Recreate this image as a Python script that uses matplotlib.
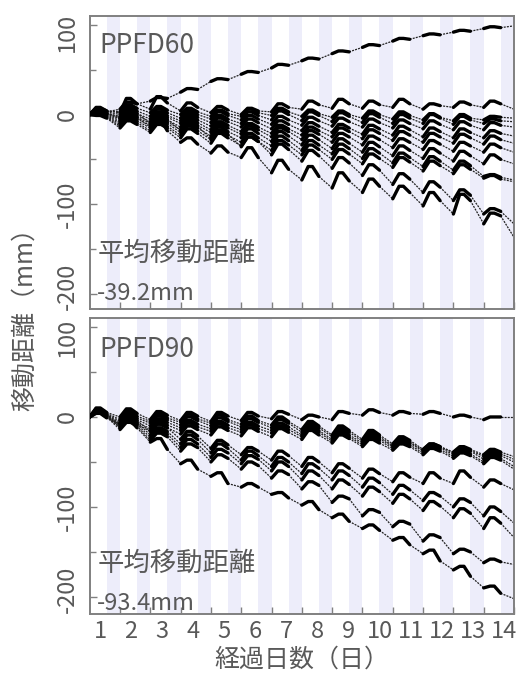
import matplotlib
matplotlib.use("Agg")
import matplotlib.pyplot as plt
from matplotlib.ticker import MultipleLocator, NullFormatter
import matplotlib.transforms as mtransforms

plt.rcParams['font.family'] = ['Noto Sans CJK JP', 'DejaVu Sans']
plt.rcParams['axes.unicode_minus'] = False

# ---------------- data ----------------
days = list(range(1, 15))
day_labels = [str(d) for d in days]
ytick_values = [100, 0, -100, -200]
ytick_labels = ['100', '0', '-100', '-200']
panel_titles = ["PPFD60", "PPFD90"]
mean_labels = ["-39.2mm", "-93.4mm"]

# PPFD60: value at start of each light period (t=0..13) + final (t=14),
# peak in the middle of the light period, value at the end of the light period
ppfd60_start = [
    [0, 6, 15, 25, 37, 45, 52, 60, 68, 75, 82, 88, 92, 96, 99],
    [0, 2, 6, 4, 2, 0, 3, 6, 7, 7, 8, 6, 8, 8, 6],
    [0, 3, 2, 0, -2, -2, -1, -2, -3, -4, -5, -6, -7, -6, -4],
    [0, 0, -2, -4, -5, -6, -6, -7, -8, -9, -10, -10, -11, -10, -8],
    [0, -3, -5, -7, -9, -10, -11, -12, -13, -14, -15, -16, -17, -17, -14],
    [0, -5, -8, -10, -13, -14, -16, -18, -20, -22, -23, -25, -26, -26, -24],
    [0, -7, -10, -14, -17, -19, -21, -23, -25, -27, -29, -31, -32, -33, -32],
    [0, -9, -12, -17, -20, -22, -25, -28, -31, -34, -37, -39, -41, -42, -42],
    [0, -11, -15, -20, -24, -26, -30, -34, -38, -42, -46, -49, -52, -55, -55],
    [0, -13, -18, -23, -28, -31, -35, -40, -44, -49, -54, -58, -62, -69, -73],
    [0, -15, -20, -26, -32, -35, -40, -45, -50, -55, -59, -63, -66, -71, -75],
    [0, -2, -10, -18, -27, -36, -45, -52, -60, -68, -78, -87, -96, -111, -122],
    [0, -4, -14, -31, -43, -48, -65, -73, -82, -87, -94, -102, -111, -122, -137],
]
ppfd60_peak = [
    [5, 14, 19, 29, 40, 48, 56, 63, 71, 78, 85, 90, 94, 98],
    [7, 18, 20, 13, 9, 7, 12, 15, 17, 15, 17, 12, 14, 15],
    [8, 11, 9, 7, 5, 6, 7, 5, 4, 4, 3, 1, 0, -2],
    [6, 8, 6, 4, 3, 3, 4, 3, 2, 1, 0, 0, -2, -5],
    [5, 5, 3, 1, -1, -1, -2, -3, -4, -5, -6, -7, -8, -9],
    [4, 3, 1, -2, -4, -5, -7, -9, -11, -12, -13, -15, -16, -18],
    [3, 1, -2, -5, -8, -10, -12, -14, -15, -17, -19, -21, -22, -24],
    [2, -1, -4, -8, -11, -13, -15, -18, -21, -24, -27, -29, -31, -33],
    [1, -3, -6, -10, -14, -16, -19, -23, -27, -31, -35, -38, -41, -45],
    [0, -5, -9, -13, -18, -21, -24, -29, -33, -38, -43, -47, -52, -67],
    [-1, -7, -11, -16, -21, -25, -29, -34, -39, -44, -48, -52, -56, -68],
    [4, 8, 0, -8, -17, -25, -33, -40, -48, -56, -66, -75, -84, -105],
    [5, 4, -6, -26, -35, -37, -51, -58, -65, -72, -80, -87, -89, -110],
]
ppfd60_end = [
    [3, 12, 18, 28, 39, 47, 55, 62, 70, 77, 84, 89, 93, 97],
    [4, 12, 13, 8, 5, 4, 8, 11, 12, 11, 12, 10, 11, 12],
    [4, 7, 5, 3, 1, 2, 3, 1, 0, 0, -1, -3, -4, -3],
    [3, 4, 2, 0, -1, -1, 0, -1, -2, -3, -4, -4, -6, -7],
    [2, 1, -1, -3, -5, -5, -6, -7, -8, -9, -10, -11, -12, -12],
    [1, -1, -3, -6, -8, -9, -11, -13, -15, -16, -17, -19, -20, -21],
    [0, -3, -6, -9, -12, -14, -16, -18, -19, -21, -23, -25, -26, -28],
    [-1, -5, -8, -12, -15, -17, -19, -22, -25, -28, -31, -33, -35, -37],
    [-2, -7, -10, -15, -19, -21, -24, -28, -32, -36, -40, -43, -46, -50],
    [-3, -9, -13, -18, -23, -26, -29, -34, -38, -43, -48, -52, -57, -70],
    [-4, -11, -15, -21, -26, -30, -34, -39, -44, -49, -53, -57, -61, -72],
    [1, 2, -5, -13, -22, -30, -39, -46, -54, -62, -72, -81, -90, -108],
    [1, -3, -18, -33, -42, -48, -61, -69, -74, -80, -87, -96, -96, -113],
]

ppfd90_start = [
    [0, 0, -3, -4, -5, -4, -2, -3, -3, 2, 2, 3, 0, -3, 0],
    [0, -3, -5, -6, -7, -8, -9, -14, -20, -25, -30, -36, -39, -42, -44],
    [0, -5, -7, -9, -10, -11, -12, -17, -22, -27, -32, -37, -40, -44, -47],
    [0, -7, -10, -12, -13, -14, -15, -20, -25, -29, -33, -38, -42, -47, -50],
    [0, -9, -13, -15, -16, -17, -18, -22, -27, -31, -35, -40, -44, -50, -55],
    [0, -11, -16, -19, -20, -21, -22, -25, -29, -33, -37, -42, -46, -52, -58],
    [0, -8, -16, -25, -35, -42, -48, -55, -62, -68, -72, -74, -74, -78, -81],
    [0, -10, -20, -30, -40, -48, -55, -63, -70, -78, -86, -93, -100, -110, -118],
    [0, -12, -23, -34, -45, -52, -60, -70, -80, -88, -96, -104, -112, -124, -134],
    [0, -14, -26, -38, -50, -58, -68, -80, -95, -110, -122, -138, -152, -162, -164],
    [0, -8, -28, -52, -66, -78, -86, -98, -112, -124, -137, -152, -170, -190, -202],
]
ppfd90_peak = [
    [10, 9, 6, 5, 5, 5, 6, 2, 6, 8, 6, 6, 2, 0],
    [9, 6, 4, 3, 2, 1, 0, -5, -10, -15, -22, -30, -33, -36],
    [8, 3, 1, 0, -1, -2, -3, -8, -13, -18, -24, -30, -34, -38],
    [7, 1, -2, -4, -5, -6, -7, -10, -16, -20, -26, -31, -35, -40],
    [6, -2, -5, -7, -8, -9, -10, -13, -18, -22, -28, -33, -38, -42],
    [5, -4, -8, -10, -11, -12, -13, -15, -20, -25, -30, -35, -40, -45],
    [8, 0, -8, -16, -26, -34, -38, -45, -52, -58, -62, -62, -60, -70],
    [7, -2, -12, -20, -30, -38, -45, -52, -60, -68, -76, -84, -91, -100],
    [6, -4, -15, -25, -36, -43, -50, -60, -70, -78, -86, -94, -102, -112],
    [5, -6, -18, -30, -42, -50, -60, -72, -88, -103, -116, -131, -147, -158],
    [4, -4, -24, -48, -62, -74, -84, -94, -108, -120, -134, -148, -166, -188],
]
ppfd90_end = [
    [5, 4, 2, 1, 1, 1, 3, 0, 4, 5, 4, 4, 0, 0],
    [4, 1, -1, -2, -3, -4, -5, -10, -15, -20, -26, -33, -36, -39],
    [3, -1, -3, -4, -5, -6, -7, -12, -17, -22, -28, -33, -37, -41],
    [2, -3, -6, -8, -9, -10, -11, -15, -20, -24, -29, -34, -38, -43],
    [1, -6, -9, -11, -12, -13, -14, -17, -22, -26, -31, -36, -41, -46],
    [0, -8, -12, -14, -15, -16, -17, -20, -24, -29, -33, -38, -43, -48],
    [3, -4, -12, -21, -31, -38, -43, -50, -57, -63, -67, -68, -67, -74],
    [2, -6, -16, -25, -35, -43, -50, -57, -65, -73, -81, -88, -95, -105],
    [1, -8, -19, -30, -40, -47, -55, -65, -75, -83, -91, -99, -107, -118],
    [0, -10, -22, -34, -46, -54, -64, -76, -91, -106, -119, -134, -150, -161],
    [-1, -12, -36, -58, -74, -78, -90, -103, -116, -126, -142, -160, -177, -196],
]

# ---------------- styling ----------------
GRAY = '#595959'
SPINE = '#808080'
STRIPE = '#EDEDFA'
LIGHT_FRAC = 0.56   # fraction of a day with data (light period)
PEAK_A, PEAK_B = 0.21, 0.35   # plateau of the daily peak (fraction of day)

fig = plt.figure(figsize=(5.18, 6.75), dpi=100)
ax1 = fig.add_axes([0.17317, 0.54222, 0.8191, 0.43407])
ax2 = fig.add_axes([0.17317, 0.09037, 0.8191, 0.43852])


def draw_panel(ax, starts, peaks, ends, ylim, label_y):
    ax.set_xlim(0, 14)
    ax.set_ylim(*ylim)
    for d in days:
        ax.axvspan(d - (1 - LIGHT_FRAC), d, color=STRIPE, lw=0, zorder=0)
    for s, p, e in zip(starts, peaks, ends):
        for d in range(14):
            ax.plot([d, d + PEAK_A, d + PEAK_B, d + LIGHT_FRAC],
                    [s[d], p[d], p[d], e[d]],
                    color='black', lw=2.4, solid_joinstyle='round',
                    solid_capstyle='round', zorder=3)
            ax.plot([d + LIGHT_FRAC, d + 1], [e[d], s[d + 1]],
                    color='#222222', lw=0.9, ls=(0, (1.6, 0.9)), zorder=2)
    for sp in ax.spines.values():
        sp.set_color(SPINE)
        sp.set_linewidth(1.4)
    ax.set_xticks(days)
    ax.yaxis.set_major_locator(MultipleLocator(100))
    ax.yaxis.set_minor_locator(MultipleLocator(50))
    ax.yaxis.set_major_formatter(NullFormatter())
    ax.tick_params(axis='both', which='both', direction='in', color=SPINE,
                   labelcolor=GRAY, width=1.0)
    ax.tick_params(axis='both', which='major', length=5)
    ax.tick_params(axis='y', which='minor', length=4)
    trans = mtransforms.blended_transform_factory(ax.transAxes, ax.transData)
    for ly, txt in zip(label_y, ytick_labels):
        ax.text(-0.026, ly, txt, transform=trans, rotation=90, ha='right',
                va='center', fontsize=17, color=GRAY)


# label centres follow the reference (end labels sit slightly inside)
draw_panel(ax1, ppfd60_start, ppfd60_peak, ppfd60_end, (-217, 110),
           [92, 0, -100, -192])
draw_panel(ax2, ppfd90_start, ppfd90_peak, ppfd90_end, (-219, 110),
           [88, 0, -100, -192])

ax1.set_xticklabels([])
ax2.set_xticklabels([])
label_pos = [0.34 + i * 1.025 for i in range(14)]
ax2.set_xticks(label_pos, minor=True)
ax2.set_xticklabels(day_labels, minor=True)
ax2.tick_params(axis='x', which='minor', length=0, pad=4, labelsize=17,
                labelcolor=GRAY)

# panel annotations
for ax, title, mean, ty, my, vy in [
        (ax1, panel_titles[0], mean_labels[0], 0.874, 0.189, 0.031),
        (ax2, panel_titles[1], mean_labels[1], 0.868, 0.171, 0.0135)]:
    ax.text(0.022, ty, title, transform=ax.transAxes, fontsize=19,
            color=GRAY, va='baseline', ha='left', zorder=5)
    ax.text(0.018, my, '平均移動距離', transform=ax.transAxes, fontsize=19,
            color=GRAY, va='center', ha='left', zorder=5)
    ax.text(0.018, vy, mean, transform=ax.transAxes, fontsize=17,
            color=GRAY, va='baseline', ha='left', zorder=5)

fig.text(25 / 518, 1 - 313 / 675, '移動距離（mm）', rotation=90, ha='center',
         va='center', fontsize=18, color=GRAY)
fig.text(302 / 518, 1 - 660 / 675, '経過日数（日）', ha='center', va='center',
         fontsize=18, color=GRAY)

fig.savefig('out.png', dpi=100)
